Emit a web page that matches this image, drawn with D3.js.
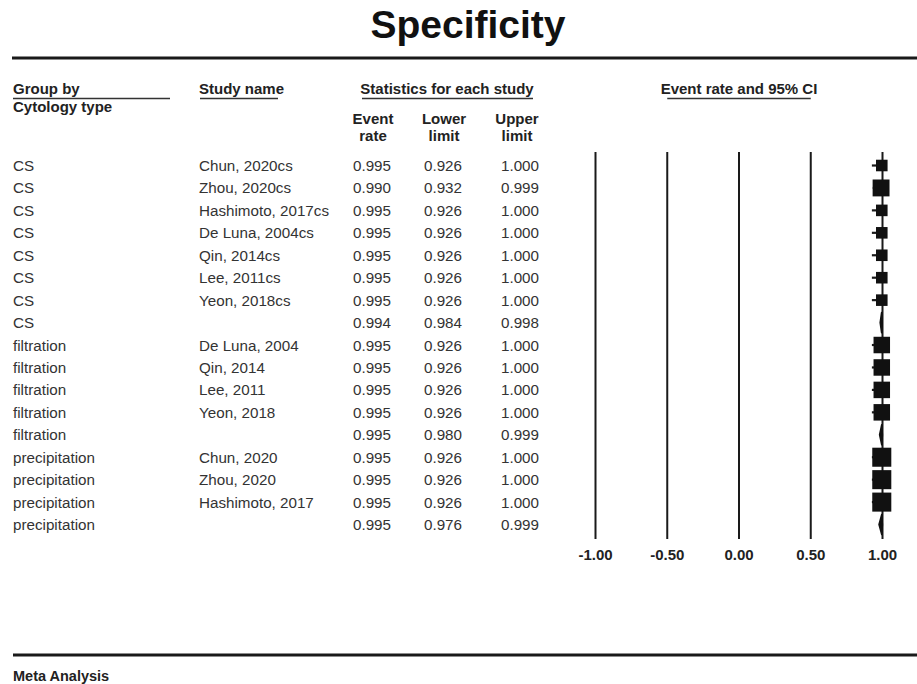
<!DOCTYPE html>
<html>
<head>
<meta charset="utf-8">
<script src="https://cdn.jsdelivr.net/npm/d3@7"></script>
<style>
  html, body { margin: 0; padding: 0; background: #fff; }
  svg { display: block; }
  text { font-family: "Liberation Sans", Arial, Helvetica, sans-serif; }
</style>
</head>
<body>
<svg id="chart" width="917" height="684"></svg>
<script>
// Forest plot data: one entry per row (study rows and subgroup summary rows)
const groups = ["CS","CS","CS","CS","CS","CS","CS","CS",
  "filtration","filtration","filtration","filtration","filtration",
  "precipitation","precipitation","precipitation","precipitation"];
const studies = ["Chun, 2020cs","Zhou, 2020cs","Hashimoto, 2017cs","De Luna, 2004cs",
  "Qin, 2014cs","Lee, 2011cs","Yeon, 2018cs","",
  "De Luna, 2004","Qin, 2014","Lee, 2011","Yeon, 2018","",
  "Chun, 2020","Zhou, 2020","Hashimoto, 2017",""];
const eventRate = [0.995,0.990,0.995,0.995,0.995,0.995,0.995,0.994,
  0.995,0.995,0.995,0.995,0.995,
  0.995,0.995,0.995,0.995];
const lowerLimit = [0.926,0.932,0.926,0.926,0.926,0.926,0.926,0.984,
  0.926,0.926,0.926,0.926,0.980,
  0.926,0.926,0.926,0.976];
const upperLimit = [1.000,0.999,1.000,1.000,1.000,1.000,1.000,0.998,
  1.000,1.000,1.000,1.000,0.999,
  1.000,1.000,1.000,0.999];
// relative weight (%) within subgroup; null marks a subgroup summary row
const relWeight = [12.3,26.2,12.3,12.3,12.3,12.3,12.3,null,
  25,25,25,25,null,
  33.3,33.3,33.3,null];
const axisTicks = [-1, -0.5, 0, 0.5, 1];
const axisLabels = ["-1.00", "-0.50", "0.00", "0.50", "1.00"];

const rows = groups.map((g, i) => ({
  group: g, study: studies[i], rate: eventRate[i],
  lo: lowerLimit[i], hi: upperLimit[i], w: relWeight[i], i
}));

const svg = d3.select("#chart");
const ink = "#1a1a1a", txt = "#333";
const fmt = d3.format(".3f");

const x = d3.scaleLinear().domain([-1, 1]).range([595.5, 882.5]);
const y = d3.scaleLinear().domain([0, 1]).range([165.5, 187.94]);
const box = d3.scaleSqrt().domain([0, 100]).range([0, 33]);

// Title and rules
svg.append("text").attr("x", 468).attr("y", 38).attr("text-anchor", "middle")
  .attr("font-size", 39).attr("font-weight", "bold").attr("fill", "#111").text("Specificity");
svg.append("line").attr("x1", 12).attr("x2", 917).attr("y1", 58).attr("y2", 58)
  .attr("stroke", ink).attr("stroke-width", 3);
svg.append("line").attr("x1", 13).attr("x2", 917).attr("y1", 655).attr("y2", 655)
  .attr("stroke", ink).attr("stroke-width", 3);
svg.append("text").attr("x", 13).attr("y", 681).attr("font-size", 14.5)
  .attr("font-weight", "bold").attr("fill", "#222").text("Meta Analysis");

// Column headers
const head = svg.append("g").attr("font-size", 15).attr("font-weight", "bold").attr("fill", "#222");
head.append("text").attr("x", 13).attr("y", 94).text("Group by");
head.append("text").attr("x", 13).attr("y", 112).text("Cytology type");
head.append("text").attr("x", 199).attr("y", 94).text("Study name");
head.append("text").attr("x", 447).attr("y", 94).attr("text-anchor", "middle").text("Statistics for each study");
head.append("text").attr("x", 739).attr("y", 94).attr("text-anchor", "middle").text("Event rate and 95% CI");
[["Event","rate",373],["Lower","limit",444],["Upper","limit",517]].forEach(([a, b, cx]) => {
  head.append("text").attr("x", cx).attr("y", 124).attr("text-anchor", "middle").text(a);
  head.append("text").attr("x", cx).attr("y", 141).attr("text-anchor", "middle").text(b);
});
const ul = [[13,170],[200,278],[362,533],[x(-0.5), x(0.5)]];
ul.forEach(([a, b]) => head.append("line").attr("x1", a).attr("x2", b)
  .attr("y1", 98.5).attr("y2", 98.5).attr("stroke", "#333").attr("stroke-width", 1.3));

// Table text
const tbl = svg.append("g").attr("font-size", 15.2).attr("fill", txt);
const rowG = tbl.selectAll("g.row").data(rows).join("g").attr("class", "row")
  .attr("transform", d => `translate(0,${y(d.i) + 5.5})`);
rowG.append("text").attr("x", 13).text(d => d.group);
rowG.append("text").attr("x", 199).text(d => d.study);
rowG.append("text").attr("x", 391).attr("text-anchor", "end").text(d => fmt(d.rate));
rowG.append("text").attr("x", 462).attr("text-anchor", "end").text(d => fmt(d.lo));
rowG.append("text").attr("x", 539).attr("text-anchor", "end").text(d => fmt(d.hi));

// Reference lines at each tick
const plotTop = 152, plotBottom = 539;
svg.append("g").selectAll("line").data(axisTicks).join("line")
  .attr("x1", d => x(d)).attr("x2", d => x(d))
  .attr("y1", plotTop).attr("y2", plotBottom)
  .attr("stroke", ink).attr("stroke-width", 2);

// Tick labels
svg.append("g").attr("font-size", 15).attr("font-weight", "bold").attr("fill", "#222")
  .selectAll("text").data(axisTicks).join("text")
  .attr("x", d => x(d)).attr("y", 560).attr("text-anchor", "middle")
  .text((d, i) => axisLabels[i]);

// Study marks: CI line and weighted square
const marks = svg.append("g");
const studyRows = rows.filter(d => d.w !== null);
marks.selectAll("line.ci").data(studyRows).join("line").attr("class", "ci")
  .attr("x1", d => x(d.lo)).attr("x2", d => x(d.hi))
  .attr("y1", d => y(d.i)).attr("y2", d => y(d.i))
  .attr("stroke", ink).attr("stroke-width", 2.2);
marks.selectAll("rect").data(studyRows).join("rect")
  .attr("x", d => x(d.rate) - box(d.w) / 2)
  .attr("y", d => y(d.i) - box(d.w) / 2)
  .attr("width", d => box(d.w)).attr("height", d => box(d.w))
  .attr("fill", "#111");

// Subgroup summary diamonds
const sumRows = rows.filter(d => d.w === null);
marks.selectAll("path").data(sumRows).join("path")
  .attr("d", d => {
    const cy = y(d.i), h = 10;
    return `M${x(d.lo)},${cy}L${x(d.rate)},${cy - h}L${x(d.hi)},${cy}L${x(d.rate)},${cy + h}Z`;
  })
  .attr("fill", "#111").attr("stroke", "#111").attr("stroke-width", 1.6)
  .attr("stroke-linejoin", "round");
</script>
</body>
</html>
